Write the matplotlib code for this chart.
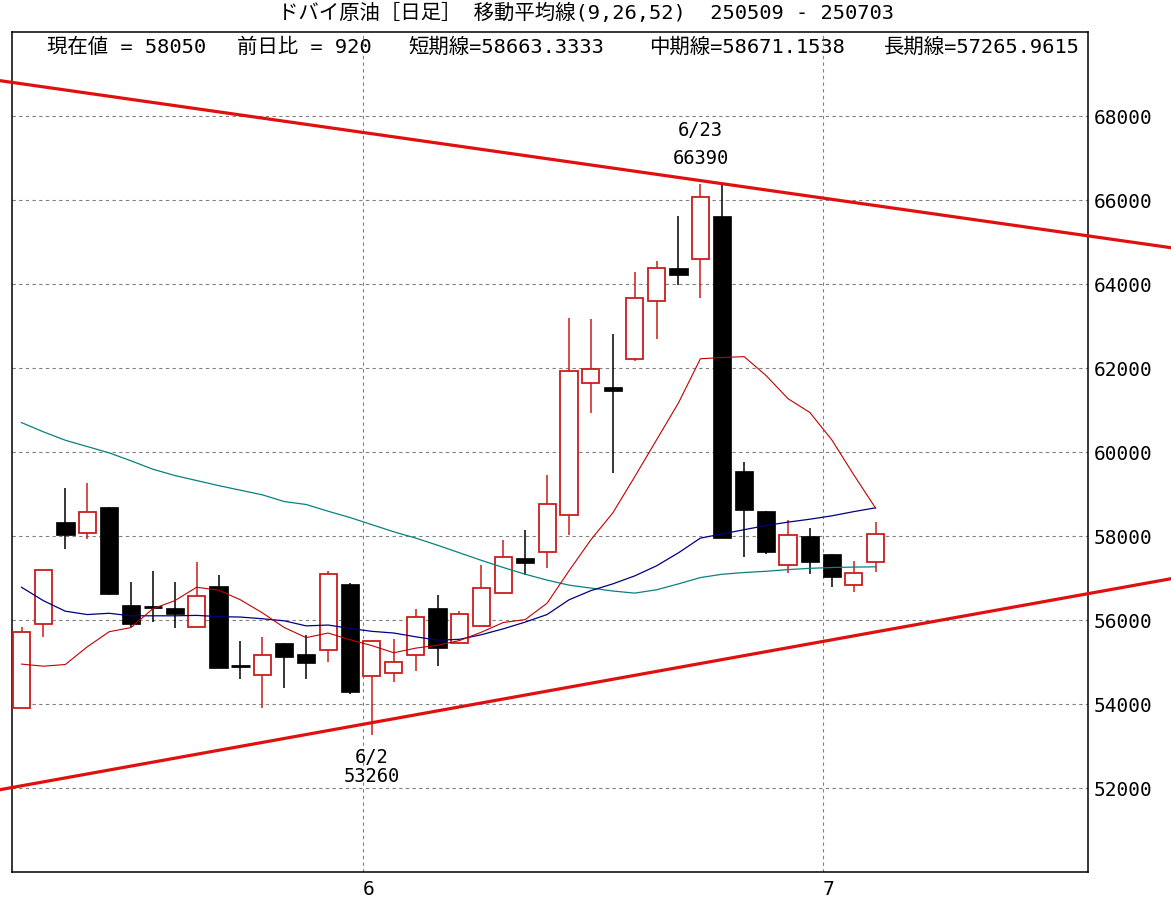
import matplotlib
matplotlib.use("Agg")
import matplotlib.pyplot as plt
from matplotlib.patches import Rectangle

plt.rcParams['font.family'] = ['DejaVu Sans Mono', 'Noto Sans CJK JP']

# ---------------- data ----------------
dates = ["5/9", "5/12", "5/13", "5/14", "5/15", "5/16", "5/19", "5/20", "5/21", "5/22",
         "5/23", "5/26", "5/27", "5/28", "5/29", "5/30",
         "6/2", "6/3", "6/4", "6/5", "6/6", "6/9", "6/10", "6/11", "6/12", "6/13",
         "6/16", "6/17", "6/18", "6/19", "6/20", "6/23", "6/24", "6/25", "6/26", "6/27",
         "6/30", "7/1", "7/2", "7/3"]

opens = [53910, 55910, 58340, 58080, 58700, 56360, 56320, 56290, 55840, 56820,
         54910, 54700, 55460, 55200, 55290, 56860, 54670, 54750, 55170, 56290,
         55460, 55860, 56650, 57480, 57630, 58510, 61650, 61550, 62220, 63600,
         64390, 64600, 65630, 59550, 58600, 57320, 58010, 57560, 56840, 57390]
highs = [55840, 57200, 59150, 59270, 58700, 56910, 57170, 56910, 57390, 57080,
         55510, 55600, 55460, 55650, 57170, 56890, 55510, 55550, 56270, 56600,
         56220, 57320, 57910, 58150, 59460, 63200, 63170, 62820, 64290, 64550,
         65630, 66390, 66360, 59770, 58600, 58390, 58200, 57560, 57410, 58340]
lows = [53910, 55600, 57700, 57940, 56600, 55840, 55960, 55820, 55840, 54860,
        54600, 53910, 54390, 54600, 55010, 54250, 53260, 54530, 54790, 54910,
        55460, 55860, 56650, 57080, 57250, 58030, 60940, 59510, 62170, 62700,
        63980, 63670, 57960, 57510, 57580, 57130, 57100, 56790, 56670, 57150]
closes = [55720, 57200, 58030, 58580, 56630, 55910, 56320, 56150, 56580, 54860,
          54910, 55170, 55130, 54980, 57100, 54290, 55510, 55010, 56080, 55340,
          56150, 56770, 57510, 57360, 58750, 61940, 61980, 61460, 63670, 64390,
          64220, 66080, 57960, 58630, 57630, 58030, 57390, 57030, 57130, 58050]

ma_short = [54950, 54900, 54940, 55360, 55720, 55820, 56270, 56460, 56780, 56710,
            56480, 56170, 55820, 55580, 55690, 55530, 55390, 55220, 55330, 55400,
            55510, 55710, 55940, 56010, 56400, 57170, 57910, 58550, 59410, 60290,
            61170, 62220, 62250, 62270, 61820, 61270, 60940, 60290, 59460, 58663.3333]
ma_mid = [56780, 56460, 56210, 56130, 56160, 56100, 56100, 56100, 56110, 56080,
          56070, 56030, 55980, 55860, 55880, 55800, 55730, 55690, 55600, 55520,
          55540, 55650, 55790, 55950, 56130, 56480, 56700, 56860, 57050, 57290,
          57600, 57950, 58050, 58150, 58250, 58330, 58400, 58480, 58580, 58671.1538]
ma_long = [60700, 60480, 60280, 60130, 59980, 59790, 59590, 59440, 59320, 59200,
           59090, 58980, 58820, 58750, 58590, 58440, 58270, 58100, 57950, 57780,
           57600, 57420, 57250, 57090, 56950, 56830, 56760, 56690, 56640, 56720,
           56860, 57010, 57090, 57130, 57160, 57200, 57230, 57250, 57260, 57265.9615]

# trend lines: (candle index, price) anchors
trend_upper_x = [-0.98, 52.49]
trend_upper_y = [68841, 64864]
trend_lower_x = [-0.98, 52.49]
trend_lower_y = [51960, 56983]

y_ticks = [52000, 54000, 56000, 58000, 60000, 62000, 64000, 66000, 68000]
title = "ドバイ原油［日足］ 移動平均線(9,26,52)  250509 - 250703"
hi_idx = 31   # 6/23
lo_idx = 16   # 6/2

# ---------------- figure ----------------
W, H = 1171, 902
fig = plt.figure(figsize=(W / 100, H / 100), dpi=100)
ax = fig.add_axes([12 / W, 30 / H, 1076 / W, 840 / H])
ax.set_xlim(-0.434, 48.70)
ax.set_ylim(50000, 70000)

RED_C = '#cc1c1c'
FS = 14.7
FS_TICK = 14

x = list(range(len(dates)))
# wicks
for i in x:
    up = closes[i] > opens[i]
    col = RED_C if up else 'black'
    ax.vlines(i, lows[i], highs[i], color=col, linewidth=1.1, zorder=3)
# bodies
bw = 0.84
for i in x:
    o, c = opens[i], closes[i]
    if c == o:
        ax.hlines(o, i - bw / 2, i + bw / 2, color='black', linewidth=2.0, zorder=4)
    elif c > o:
        ax.add_patch(Rectangle((i - bw / 2 + 0.03, o), bw - 0.06, c - o, facecolor='white',
                               edgecolor=RED_C, linewidth=1.3, zorder=4))
    else:
        ax.add_patch(Rectangle((i - bw / 2, c), bw, o - c, facecolor='black',
                               edgecolor='black', linewidth=0.5, zorder=4))

# moving averages
ax.plot(x, ma_long, color='#0a8080', linewidth=0.9, zorder=5)
ax.plot(x, ma_mid, color='#000080', linewidth=0.9, zorder=5)
ax.plot(x, ma_short, color='#c00000', linewidth=0.8, zorder=5)

# trend lines
ax.plot(trend_upper_x, trend_upper_y, color='#e01010', linewidth=2.3, zorder=6, clip_on=False)
ax.plot(trend_lower_x, trend_lower_y, color='#e01010', linewidth=2.3, zorder=6, clip_on=False)

# grid / ticks
month_pos = []
month_lab = []
prev_m = dates[0].split('/')[0]
for i, d in enumerate(dates):
    m = d.split('/')[0]
    if m != prev_m:
        month_pos.append(i - 0.4)
        month_lab.append(m)
    prev_m = m
ax.set_xticks(month_pos)
ax.set_xticklabels(month_lab, fontsize=FS_TICK, ha='left')
ax.set_yticks(y_ticks)
ax.set_yticklabels([str(v) for v in y_ticks], fontsize=FS_TICK)
ax.yaxis.tick_right()
ax.tick_params(axis='both', length=0)
ax.tick_params(axis='y', pad=4)
ax.tick_params(axis='x', pad=6)
ax.grid(True, color='#808080', linestyle=(0, (3, 3)), linewidth=0.8, zorder=1)
ax.set_axisbelow(True)
for s in ax.spines.values():
    s.set_linewidth(1.1)
    s.set_color('black')

# annotations of max / min
ax.annotate(f"{highs[hi_idx]}", xy=(hi_idx, highs[hi_idx]), xytext=(0, 18),
            textcoords='offset points', ha='center', va='center', fontsize=FS_TICK - 0.5, zorder=7)
ax.annotate(dates[hi_idx], xy=(hi_idx, highs[hi_idx]), xytext=(0, 38),
            textcoords='offset points', ha='center', va='center', fontsize=FS_TICK - 0.5, zorder=7)
ax.annotate(dates[lo_idx], xy=(lo_idx, lows[lo_idx]), xytext=(0, -16),
            textcoords='offset points', ha='center', va='center', fontsize=FS_TICK - 0.5, zorder=7)
ax.annotate(f"{lows[lo_idx]}", xy=(lo_idx, lows[lo_idx]), xytext=(0, -30),
            textcoords='offset points', ha='center', va='center', fontsize=FS_TICK - 0.5, zorder=7)

# title and info line
fig.text(586 / W, 1 - 13 / H, title, ha='center', va='center', fontsize=FS)
diff = closes[-1] - closes[-2]
segs = [(47, f"現在値 = {closes[-1]}"),
        (237, f"前日比 = {diff}"),
        (408, f"短期線={ma_short[-1]:.4f}"),
        (649, f"中期線={ma_mid[-1]:.4f}"),
        (884, f"長期線={ma_long[-1]:.4f}")]
for px, s in segs:
    fig.text(px / W, 1 - 47 / H, s, ha='left', va='center', fontsize=FS, zorder=8)

fig.savefig("out.png", dpi=100, facecolor='white')
